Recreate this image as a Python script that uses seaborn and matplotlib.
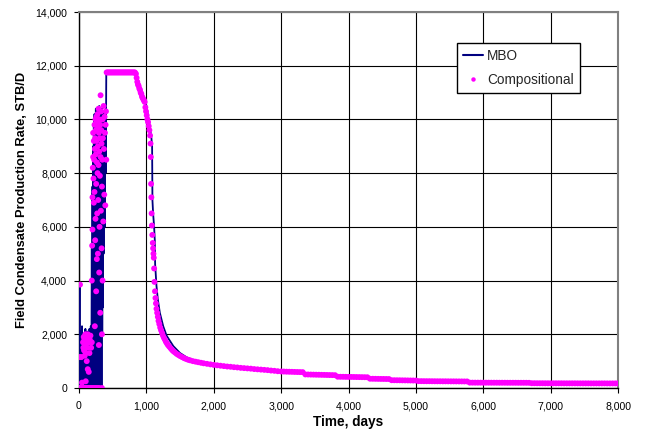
import matplotlib
matplotlib.use("Agg")
import matplotlib.pyplot as plt
import seaborn as sns
import pandas as pd
from matplotlib.lines import Line2D
from matplotlib.ticker import FuncFormatter

# ---------------- data ----------------
# MBO: early cycling period
mbo_days_early = [0, 5, 12, 15, 22, 27, 32, 37, 45, 50, 55, 60, 65, 70, 75, 80, 85, 90, 95,
                  100, 105, 110, 115, 120, 125, 130, 135, 140, 145, 150, 155, 160, 165, 170,
                  175, 180, 185]
mbo_rate_early = [0, 3900, 3900, 0, 2100, 0, 1200, 0, 2300, 0, 1800, 0, 2000, 100, 1900, 0,
                  1700, 0, 2200, 0, 2000, 0, 1900, 200, 2100, 0, 1800, 0, 2000, 0, 2200, 0,
                  1900, 0, 2300, 0, 1500]
# MBO: main cycling block
mbo_days_block = [190, 195, 200, 205, 210, 215, 220, 225, 230, 235,
                  240, 245, 250, 255, 260, 265, 270, 275, 280, 285,
                  290, 295, 300, 305, 310, 315, 320, 325, 330, 335,
                  340, 345, 350, 355, 360, 365, 370, 375, 380, 385,
                  390, 395, 400, 405]
mbo_rate_block = [5200, 0, 7500, 200, 9000, 0, 9800, 300, 10200, 0,
                  10000, 200, 10400, 0, 9500, 500, 10300, 0, 10100, 300,
                  9800, 0, 10500, 200, 10300, 0, 9900, 400, 10200, 0,
                  10400, 2000, 9800, 3000, 10000, 5000, 10300, 7000, 9000, 6000,
                  10200, 8000, 9500, 11750]
# MBO: plateau end and decline
mbo_days_decl = [830, 870, 900, 950, 1000, 1040, 1075, 1085, 1090, 1100, 1115, 1125, 1130,
                 1140, 1150, 1170, 1200, 1250, 1300, 1400, 1500, 1600, 1700, 1800, 2000,
                 2500, 3000, 3500, 4000, 4500, 5000, 5500, 6000, 7000, 8000]
mbo_rate_decl = [11750, 11500, 11250, 10900, 10500, 9900, 9300, 9000, 7000, 6500, 6000, 5500,
                 4600, 4200, 3800, 3300, 2800, 2300, 1950, 1560, 1300, 1140, 1030, 960, 870,
                 740, 620, 510, 420, 345, 285, 255, 205, 180, 175]

# Compositional: early period
comp_days_early = [
    0, 10, 20, 30, 40, 50, 60, 80, 100, 120, 140, 160, 180, 200, 220, 240, 260, 280, 300, 340,
    15, 5, 25, 35, 45, 60, 65, 70, 75, 80, 85, 90, 95, 100, 105, 110, 115, 120, 125, 130,
    135, 140, 145, 150, 155, 160, 170, 180, 190, 100, 130,
    190, 195, 200, 200, 205, 210, 210, 215, 220, 220, 225, 230, 230, 235, 235, 240, 240,
    245, 245, 250, 250, 255, 255, 260, 260, 265, 265, 270, 270, 275, 275, 280, 280, 285,
    285, 290, 290, 295, 295, 300, 300, 305, 305, 310, 310, 315, 315, 320, 320, 325, 330,
    330, 335, 335, 340, 340, 345, 350, 350, 355, 360, 365, 370, 375, 380, 385, 390, 395,
    400, 405]
comp_rate_early = [
    0, 0, 0, 0, 0, 0, 0, 0, 0, 0, 0, 0, 0, 0, 0, 0, 0, 0, 0, 0,
    3850, 1150, 1150, 1150, 200, 1700, 1500, 1900, 1400, 1800, 1200, 1600, 2000, 1300, 1700,
    1900, 1000, 1800, 1500, 2000, 1700, 1900, 600, 1700, 1300, 1800, 1950, 1500, 1700, 250, 700,
    4000, 5300, 5900, 7100, 8200, 8600, 9500, 7800, 9200, 6900, 8500, 9800, 7300, 2300, 8900,
    9300, 5500, 10000, 6300, 8700, 9600, 7600, 3600, 9200, 10100, 4800, 8400, 9900, 6500,
    8000, 10200, 9000, 5000, 9700, 7000, 10400, 8300, 1600, 9500, 8800, 4300, 10000, 6000,
    9300, 7900, 2800, 9800, 10900, 8600, 6600, 9600, 10300, 5200, 9100, 2000, 7500, 8500,
    10000, 4000, 9300, 6200, 10500, 8900, 7200, 10100, 9500, 6800, 9800, 10300, 8500]
# Compositional: plateau and decline
comp_days_decl = [
    410, 425, 440, 455, 470, 485, 500, 515, 530, 545, 560, 575, 590, 605, 620, 635, 650,
    665, 680, 695, 710, 725, 740, 755, 770, 785, 800, 815,
    830, 845, 855, 865, 875, 885, 895, 905, 915, 925, 935, 945, 955, 965, 975, 985, 995,
    1005, 1015, 1025, 1035, 1045, 1055, 1062, 1066, 1070, 1074, 1078, 1082, 1088, 1095,
    1100, 1105, 1110, 1115, 1120, 1128, 1135, 1142, 1150, 1160, 1170, 1180, 1192, 1205,
    1218, 1232, 1246, 1260, 1275, 1290, 1305, 1320, 1340, 1360, 1380, 1400, 1425, 1450,
    1475, 1500, 1530, 1560, 1590, 1620, 1650, 1690, 1730, 1770, 1810, 1850, 1900, 1950,
    2000, 2050, 2100, 2150, 2200, 2250, 2300, 2350, 2400, 2450, 2500, 2550, 2600, 2650,
    2700, 2750, 2800, 2850, 2900, 2950]
comp_rate_decl = [
    11750, 11750, 11750, 11750, 11750, 11750, 11750, 11750, 11750, 11750, 11750, 11750,
    11750, 11750, 11750, 11750, 11750, 11750, 11750, 11750, 11750, 11750, 11750, 11750,
    11750, 11750, 11750, 11750,
    11750, 11700, 11550, 11400, 11300, 11250, 11150, 11100, 11000, 10950, 10850, 10800,
    10750, 10700, 10650, 10450, 10300, 10150, 10000, 9900, 9750, 9600, 9400, 9100, 8600,
    7600, 7100, 6500, 6050, 5700, 5400, 5200, 5000, 4850, 4450, 3950, 3600, 3350, 3150,
    2950, 2800, 2650, 2500, 2380, 2250, 2150, 2050, 1950, 1870, 1800, 1720, 1660, 1600,
    1540, 1480, 1420, 1370, 1320, 1270, 1230, 1190, 1150, 1110, 1080, 1050, 1030, 1000,
    980, 960, 940, 920, 900, 880, 860, 845, 830, 815, 800, 790, 775, 765, 750, 740, 730,
    720, 705, 695, 685, 675, 665, 650, 640, 625]
# Compositional: late tail
comp_days_tail = [
    3000, 3040, 3080, 3120, 3160, 3200, 3240, 3280, 3320, 3360,
    3400, 3440, 3480, 3520, 3560, 3600, 3640, 3680, 3720, 3760,
    3800, 3840, 3880, 3920, 3960, 4000, 4040, 4080, 4120, 4160,
    4200, 4240, 4280, 4320, 4360, 4400, 4440, 4480, 4520, 4560,
    4600, 4640, 4680, 4720, 4760, 4800, 4840, 4880, 4920, 4960,
    5000, 5040, 5080, 5120, 5160, 5200, 5240, 5280, 5320, 5360,
    5400, 5440, 5480, 5520, 5560, 5600, 5640, 5680, 5720, 5760,
    5800, 5840, 5880, 5920, 5960, 6000, 6040, 6080, 6120, 6160,
    6200, 6240, 6280, 6320, 6360, 6400, 6440, 6480, 6520, 6560,
    6600, 6640, 6680, 6720, 6760, 6800, 6840, 6880, 6920, 6960,
    7000, 7040, 7080, 7120, 7160, 7200, 7240, 7280, 7320, 7360,
    7400, 7440, 7480, 7520, 7560, 7600, 7640, 7680, 7720, 7760,
    7800, 7840, 7880, 7920, 7960, 7995]
comp_rate_tail = [
    615, 612, 608, 605, 602, 598, 595, 592, 590, 505,
    503, 500, 498, 495, 493, 490, 488, 485, 482, 480,
    477, 420, 418, 417, 415, 413, 412, 410, 408, 406,
    404, 402, 400, 345, 344, 342, 340, 338, 337, 335,
    334, 290, 289, 288, 287, 285, 284, 282, 280, 279,
    278, 255, 255, 254, 253, 253, 252, 251, 250, 250,
    249, 249, 248, 247, 247, 246, 245, 245, 244, 244,
    200, 200, 199, 199, 199, 198, 198, 198, 197, 197,
    197, 196, 196, 196, 195, 195, 195, 195, 194, 194,
    194, 194, 193, 178, 178, 177, 177, 177, 176, 176,
    176, 175, 175, 175, 175, 174, 174, 174, 174, 174,
    173, 173, 173, 173, 173, 172, 172, 172, 172, 172,
    172, 171, 171, 171, 171, 171]

x_ticks = [0, 1000, 2000, 3000, 4000, 5000, 6000, 7000, 8000]
y_ticks = [0, 2000, 4000, 6000, 8000, 10000, 12000, 14000]
x_label = "Time, days"
y_label = "Field Condensate Production Rate, STB/D"
series_names = ["MBO", "Compositional"]

# ---------------- plot ----------------
sns.set_theme(style="white")
plt.rcParams["font.family"] = ["Liberation Sans", "DejaVu Sans"]

fig = plt.figure(figsize=(6.51, 4.38), dpi=100)
ax = fig.add_axes([79 / 651, 50 / 438, 539 / 651, 376 / 438])

mbo_df = pd.DataFrame({"day": mbo_days_early + mbo_days_block + mbo_days_decl,
                       "rate": mbo_rate_early + mbo_rate_block + mbo_rate_decl})
comp_df = pd.DataFrame({"day": comp_days_early + comp_days_decl + comp_days_tail,
                        "rate": comp_rate_early + comp_rate_decl + comp_rate_tail})

sns.lineplot(data=mbo_df, x="day", y="rate", ax=ax, color="#000080", linewidth=1.3,
             estimator=None, sort=False, zorder=3)
sns.scatterplot(data=comp_df, x="day", y="rate", ax=ax, color="#FF00FF", s=18,
                edgecolor="none", linewidth=0, zorder=4)

ax.set_xlim(0, 8000)
ax.set_ylim(0, 14000)
ax.set_xticks(x_ticks)
ax.set_yticks(y_ticks)
fmt = FuncFormatter(lambda v, p: f"{int(v):,}")
ax.xaxis.set_major_formatter(fmt)
ax.yaxis.set_major_formatter(fmt)

ax.grid(True, color="black", linewidth=0.8)
ax.set_axisbelow(True)

for s in ["top", "right"]:
    ax.spines[s].set_color("#808080")
    ax.spines[s].set_linewidth(1.5)
for s in ["left", "bottom"]:
    ax.spines[s].set_color("black")
    ax.spines[s].set_linewidth(1.0)

ax.tick_params(axis="both", which="major", direction="out", length=3.5, width=0.8,
               color="black", labelsize=7.6, labelcolor="black",
               left=True, bottom=True)
ax.tick_params(axis="x", pad=6)
ax.tick_params(axis="y", pad=5)

ax.set_xlabel(x_label, fontsize=9.8, fontweight="bold", color="black", labelpad=3)
ax.set_ylabel(y_label, fontsize=9.3, fontweight="bold", color="black", labelpad=5)

handles = [Line2D([0], [0], color="#000080", linewidth=1.5),
           Line2D([0], [0], color="#FF00FF", marker="o", linestyle="none", markersize=3.2,
                  markeredgewidth=0)]
leg = ax.legend(handles, series_names, loc="upper left", bbox_to_anchor=(0.701, 0.918),
                fontsize=9.8, frameon=True, fancybox=False, framealpha=1, edgecolor="black",
                handlelength=1.5, handletextpad=0.25, labelspacing=0.75, borderpad=0.45,
                borderaxespad=0)
leg.get_frame().set_linewidth(1.0)
leg.set_zorder(10)

fig.savefig("out.png", dpi=100)
